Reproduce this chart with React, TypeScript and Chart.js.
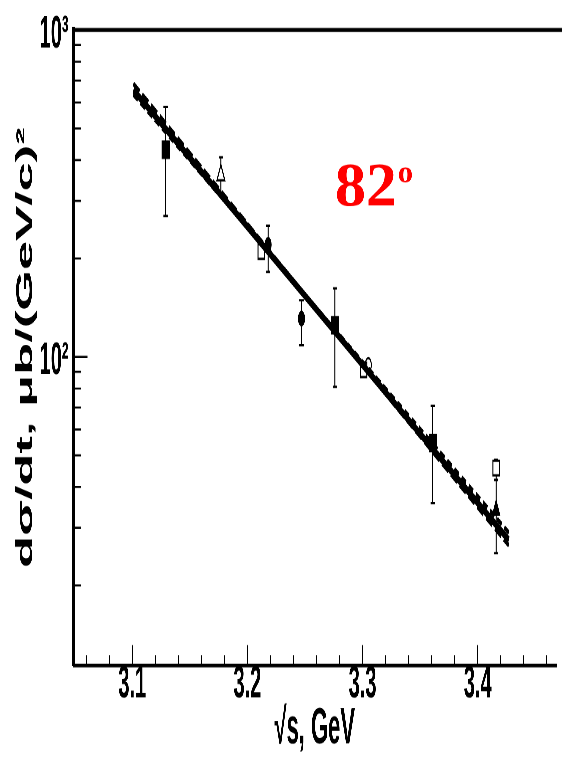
import React, { useEffect, useRef } from 'react';
import { Chart, registerables } from 'chart.js';

Chart.register(...registerables);

// ---- canvas geometry (the original picture is stretched vertically) ----
const W = 562;
const H_DISPLAY = 761;
const H = 331;
const K = H_DISPLAY / H;

// ---- axes ----
const X_MIN = 3.049;
const X_MAX = 3.468;
const Y_MIN = 11.4;
const Y_MAX = 1000;
const X_TICKS = [3.1, 3.2, 3.3, 3.4];
const X_MINOR = [3.06, 3.08, 3.12, 3.14, 3.16, 3.18, 3.22, 3.24, 3.26, 3.28, 3.32, 3.34, 3.36, 3.38, 3.42, 3.44, 3.46];
const Y_TICKS = [100, 1000];
const Y_TICK_LABELS = ['10²', '10³'];
const Y_MINOR = [20, 30, 40, 50, 60, 70, 80, 90, 200, 300, 400, 500, 600, 700, 800, 900];
const X_TITLE = '√s, GeV';
const Y_TITLE = 'dσ/dt, μb/(GeV/c)²';

// ---- fit curves ----
const FIT_X = [3.101, 3.427];
const FIT_SOLID = [655, 27.5];
const FIT_DASH_A = [685, 26.5];
const FIT_DASH_B = [635, 29];

// ---- data points ----
const SQ_FILLED_X = [3.129, 3.276, 3.361];
const SQ_FILLED_Y = [430, 125, 54.5];
const TRI_OPEN_X = [3.177];
const TRI_OPEN_Y = [360];
const CIRC_FILLED_X = [3.218, 3.247];
const CIRC_FILLED_Y = [220, 131];
const SQ_OPEN_X = [3.212, 3.301, 3.416];
const SQ_OPEN_Y = [210, 91.3, 45.7];
const CIRC_OPEN_X = [3.305];
const CIRC_OPEN_Y = [94.5];
const TRI_FILLED_X = [3.416];
const TRI_FILLED_Y = [34];

// ---- error bars ----
const ERR_X = [3.129, 3.177, 3.218, 3.247, 3.276, 3.361, 3.416, 3.416];
const ERR_LO = [270, 313, 182, 108.6, 81, 35.7, 42, 25.1];
const ERR_HI = [582, 408, 252, 149, 162, 70.8, 48.4, 42];

// ---- annotation ----
const ANNOT_MAIN = '82';
const ANNOT_SUP = 'o';
const ANNOT_X = 3.276;
const ANNOT_Y = 291;

const TICK_FONT = "'Liberation Sans Narrow', 'Liberation Sans', Arial, sans-serif";
const TITLE_FONT = "'Liberation Sans', Arial, sans-serif";

const pts = (xs: number[], ys: number[]) => xs.map((x, i) => ({ x, y: ys[i] }));

const innerTicks = {
  id: 'innerTicks',
  afterDraw(chart: any) {
    const { ctx, chartArea: a, scales } = chart;
    const xs = scales.x;
    const ys = scales.y;
    ctx.save();
    ctx.strokeStyle = '#000';
    ctx.lineWidth = 1;
    ctx.beginPath();
    for (const v of X_MINOR) {
      const px = xs.getPixelForValue(v);
      ctx.moveTo(px, a.bottom);
      ctx.lineTo(px, a.bottom - 4.3);
    }
    for (const v of X_TICKS) {
      const px = xs.getPixelForValue(v);
      ctx.moveTo(px, a.bottom);
      ctx.lineTo(px, a.bottom - 8.7);
    }
    ctx.stroke();
    ctx.lineWidth = 0.9;
    ctx.beginPath();
    for (const v of Y_MINOR) {
      const py = ys.getPixelForValue(v);
      ctx.moveTo(a.left, py);
      ctx.lineTo(a.left + 7.5, py);
    }
    for (const v of Y_TICKS) {
      const py = ys.getPixelForValue(v);
      ctx.moveTo(a.left, py);
      ctx.lineTo(a.left + 14, py);
    }
    ctx.stroke();
    // thick top frame line
    ctx.lineWidth = 1.8;
    ctx.beginPath();
    ctx.moveTo(a.left - 1.5, a.top);
    ctx.lineTo(chart.width, a.top);
    ctx.stroke();
    ctx.restore();
  },
};

const annotation = {
  id: 'angleLabel',
  afterDraw(chart: any) {
    const { ctx, scales } = chart;
    const px = scales.x.getPixelForValue(ANNOT_X);
    const py = scales.y.getPixelForValue(ANNOT_Y);
    ctx.save();
    ctx.translate(px, py);
    ctx.scale(1, 1 / K);
    ctx.fillStyle = '#ff0000';
    ctx.textBaseline = 'alphabetic';
    ctx.textAlign = 'left';
    ctx.font = "bold 62px 'Liberation Serif', 'Times New Roman', serif";
    ctx.fillText(ANNOT_MAIN, 0, 0);
    const w = ctx.measureText(ANNOT_MAIN).width;
    ctx.font = "bold 30px 'Liberation Serif', 'Times New Roman', serif";
    ctx.fillText(ANNOT_SUP, w + 1, -23);
    ctx.restore();
  },
};

export default function App() {
  const ref = useRef<HTMLCanvasElement>(null);

  useEffect(() => {
    if (!ref.current) return;
    const errData: any[] = [];
    ERR_X.forEach((x, i) => {
      errData.push({ x, y: ERR_LO[i] }, { x, y: ERR_HI[i] }, { x, y: null });
    });
    const marker = (data: any[], style: string, r: number, filled: boolean) => ({
      data,
      showLine: false,
      pointStyle: style,
      pointRadius: r,
      pointHoverRadius: r,
      pointBackgroundColor: filled ? '#000' : '#fff',
      pointBorderColor: '#000',
      pointBorderWidth: 1,
    });
    const fit = (ys: number[], width: number, dash: number[]) => ({
      data: pts(FIT_X, ys),
      showLine: true,
      borderColor: '#000',
      borderWidth: width,
      borderDash: dash,
      pointRadius: 0,
      pointHoverRadius: 0,
    });
    const chart = new Chart(ref.current, {
      type: 'scatter',
      data: {
        datasets: [
          fit(FIT_SOLID, 3.4, []),
          fit(FIT_DASH_A, 2.2, [7, 3]),
          fit(FIT_DASH_B, 2.2, [5, 3]),
          marker(pts(SQ_FILLED_X, SQ_FILLED_Y), 'rect', 5, true),
          marker(pts(TRI_OPEN_X, TRI_OPEN_Y), 'triangle', 4.5, false),
          marker(pts(CIRC_FILLED_X, CIRC_FILLED_Y), 'circle', 3, true),
          marker(pts(SQ_OPEN_X, SQ_OPEN_Y), 'rect', 4.5, false),
          marker(pts(CIRC_OPEN_X, CIRC_OPEN_Y), 'circle', 3, false),
          marker(pts(TRI_FILLED_X, TRI_FILLED_Y), 'triangle', 4, true),
          {
            data: errData,
            showLine: true,
            spanGaps: false,
            borderColor: '#000',
            borderWidth: 1,
            pointStyle: 'line',
            pointRadius: 2.2,
            pointHoverRadius: 2.2,
            pointBorderColor: '#000',
            pointBorderWidth: 1,
          } as any,
        ] as any,
      },
      options: {
        animation: false,
        responsive: false,
        maintainAspectRatio: false,
        devicePixelRatio: 3,
        events: [],
        layout: { padding: { top: 13.05, right: 0, bottom: 0, left: 0 } },
        plugins: { legend: { display: false }, tooltip: { enabled: false } },
        scales: {
          x: {
            type: 'linear',
            position: 'bottom',
            min: X_MIN,
            max: X_MAX,
            grid: { display: false, drawTicks: false },
            border: { display: true, color: '#000', width: 1.6 },
            afterBuildTicks: (s: any) => {
              s.ticks = X_TICKS.map((v) => ({ value: v }));
            },
            afterFit: (s: any) => {
              s.height = H - 289.3;
              s.paddingLeft = 0;
              s.paddingRight = 0;
            },
            ticks: {
              color: '#000',
              padding: -1.5,
              maxRotation: 0,
              font: { family: TICK_FONT, size: 20, weight: 'bold', lineHeight: 1 },
              callback: (v: any) => Number(v).toFixed(1),
            },
            title: {
              display: true,
              text: X_TITLE,
              color: '#000',
              font: { family: TITLE_FONT, size: 22, weight: 'bold', lineHeight: 1 },
              padding: { top: 0, bottom: 2.6 },
            },
          },
          y: {
            type: 'logarithmic',
            position: 'left',
            min: Y_MIN,
            max: Y_MAX,
            grid: { display: false, drawTicks: false },
            border: { display: true, color: '#000', width: 3 },
            afterBuildTicks: (s: any) => {
              s.ticks = Y_TICKS.map((v) => ({ value: v }));
            },
            afterFit: (s: any) => {
              s.width = 73.5;
              s.paddingTop = 0;
              s.paddingBottom = 0;
            },
            ticks: {
              color: '#000',
              padding: 5,
              labelOffset: 2,
              font: { family: TICK_FONT, size: 20, weight: 'bold', lineHeight: 1 },
              callback: (_v: any, i: number) => Y_TICK_LABELS[i] ?? '',
            },
            title: {
              display: true,
              text: Y_TITLE,
              color: '#000',
              font: { family: TITLE_FONT, size: 22.8, weight: 'bold', lineHeight: 1 },
              padding: { top: 14.2, bottom: 0 },
            },
          },
        },
      } as any,
      plugins: [innerTicks, annotation],
    });
    return () => chart.destroy();
  }, []);

  return (
    <div style={{ position: 'absolute', left: 0, top: 0, width: W, height: H_DISPLAY, background: '#fff' }}>
      <canvas
        ref={ref}
        width={W}
        height={H}
        style={{ display: 'block', width: `${W}px`, height: `${H_DISPLAY}px` }}
      />
    </div>
  );
}
